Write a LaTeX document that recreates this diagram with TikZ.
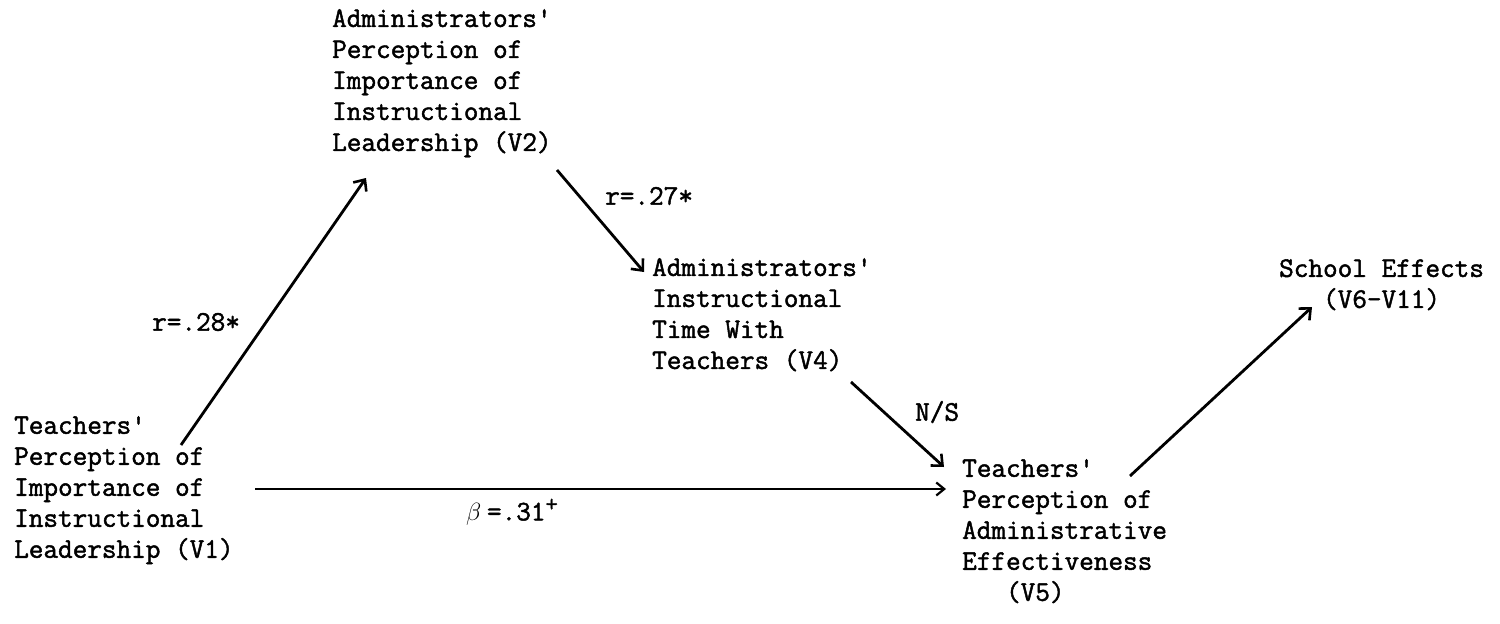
\documentclass[tikz,border=0pt]{standalone}
\usepackage{fontspec}
\newfontfamily\tw{Latin Modern Mono}[FakeBold=1.6]
\usetikzlibrary{arrows.meta}
\begin{document}
\begin{tikzpicture}[x=1pt,y=-1pt,
  txt/.style={anchor=north west,inner sep=0pt,align=left,font=\tw\fontsize{28.4}{31}\selectfont},
  lab/.style={anchor=west,inner sep=0pt,font=\tw\fontsize{28.4}{31}\selectfont},
  arr/.style={line width=2.8pt,-{Straight Barb[length=9pt,width=16pt,line width=2.6pt]}},
  harr/.style={line width=2pt,-{Straight Barb[length=8pt,width=13pt,line width=2.2pt]}}]
\useasboundingbox (0,0) rectangle (1500,624);
% nodes
\node[txt] (v2) at (332,9) {Administrators'\\Perception of\\Importance of\\Instructional\\Leadership (V2)};
\node[txt] (v4) at (652,258) {Administrators'\\Instructional\\Time With\\Teachers (V4)};
\node[txt] (v1) at (14,416) {Teachers'\\Perception of\\Importance of\\Instructional\\Leadership (V1)};
\node[txt] (v5) at (962,459) {Teachers'\\Perception of\\Administrative\\Effectiveness\\\ \ \ (V5)};
\node[txt] (v6) at (1279,259) {School Effects\\\ \ \ (V6-V11)};
% connector ends
\coordinate (v1o) at (181,445);
\coordinate (v2i) at (366,178);
\coordinate (v2o) at (557,170);
\coordinate (v4i) at (644,272);
\coordinate (v4o) at (851,382);
\coordinate (v5i) at (944,467);
\coordinate (v1h) at (255,489);
\coordinate (v5h) at (946,489);
\coordinate (v5o) at (1130,476);
\coordinate (v6i) at (1312,307);
% connectors
\draw[arr] (v1o) -- (v2i);
\draw[arr] (v2o) -- (v4i);
\draw[arr] (v4o) -- (v5i);
\draw[harr] (v1h) -- (v5h);
\draw[arr] (v5o) -- (v6i);
% labels
\node[lab] (l1) at (152,322) {r=.28*};
\node[lab] (l2) at (605,196) {r=.27*};
\node[lab] (l3) at (915,412) {N/S};
\node[lab] (l4) at (466,512) {\fontsize{34}{34}\selectfont$\beta$\,\tw\fontsize{28.4}{31}\selectfont=.31\raisebox{9pt}{\fontsize{24}{24}\selectfont+}};
\end{tikzpicture}
\end{document}
